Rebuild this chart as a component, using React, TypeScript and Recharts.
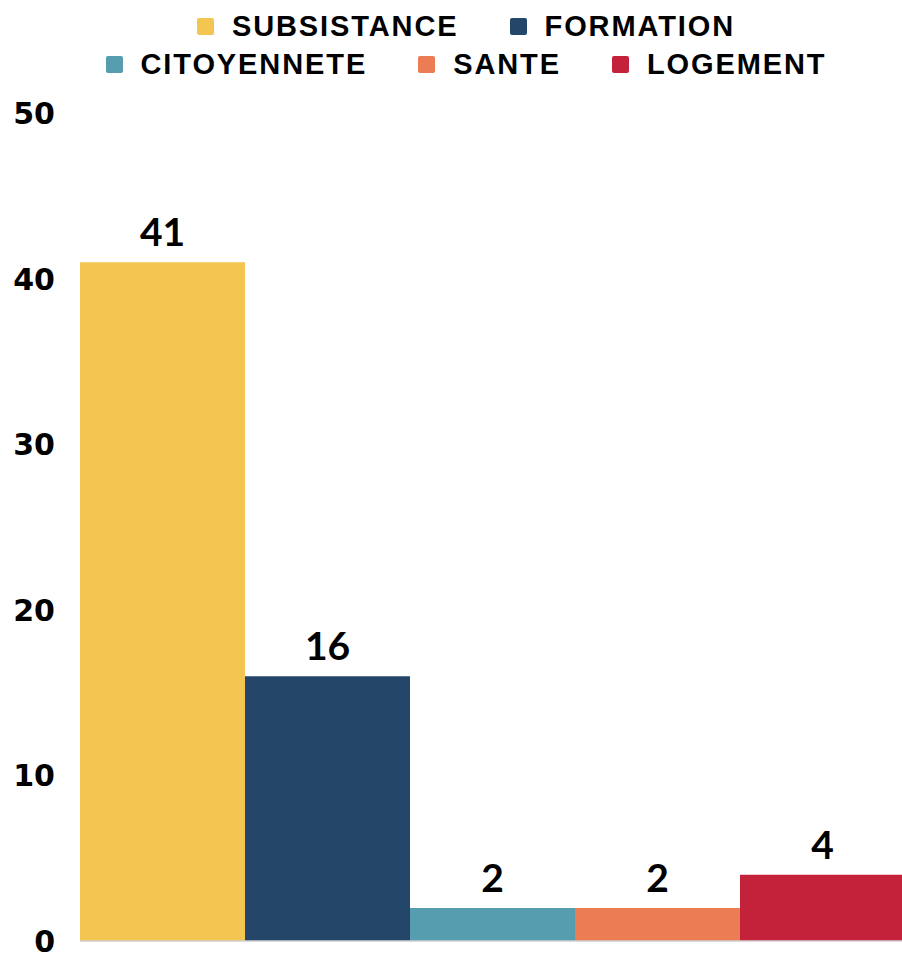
import React from 'react';
import { BarChart, Bar, XAxis, YAxis, Legend, LabelList } from 'recharts';

const categories = ['Total'];
const seriesNames = ['SUBSISTANCE', 'FORMATION', 'CITOYENNETE', 'SANTE', 'LOGEMENT'];
const seriesValues = [41, 16, 2, 2, 4];
const seriesColors = ['#F2C651', '#244668', '#559DAF', '#EC7C53', '#C4223B'];
const yTicks = [0, 10, 20, 30, 40, 50];
const legendRows = [[0, 1], [2, 3, 4]];

const data = categories.map((c) => {
  const row: Record<string, string | number> = { name: c };
  seriesNames.forEach((s, i) => {
    row[s] = seriesValues[i];
  });
  return row;
});

const LegendContent = (props: any) => {
  const payload: any[] = props.payload || [];
  const byName: Record<string, any> = {};
  payload.forEach((p) => {
    byName[p.value] = p;
  });
  return (
    <div style={{ paddingTop: 7, paddingLeft: 30, width: 902, height: 80, boxSizing: 'border-box' }}>
      {legendRows.map((row, ri) => (
        <div
          key={ri}
          style={{ display: 'flex', justifyContent: 'center', alignItems: 'center', height: 38 }}
        >
          {row.map((idx, k) => {
            const name = seriesNames[idx];
            const p = byName[name];
            return (
              <div
                key={name}
                style={{
                  display: 'flex',
                  alignItems: 'center',
                  marginLeft: k === 0 ? 0 : 51,
                }}
              >
                <span
                  style={{
                    display: 'inline-block',
                    width: 17,
                    height: 17,
                    borderRadius: 2,
                    background: p ? p.color : seriesColors[idx],
                    marginRight: 18,
                  }}
                />
                <span
                  style={{
                    fontFamily: '"Liberation Sans", Arial, sans-serif',
                    fontWeight: 700,
                    fontSize: 29,
                    letterSpacing: 1.9,
                    lineHeight: '38px',
                    color: '#000',
                  }}
                >
                  {name}
                </span>
              </div>
            );
          })}
        </div>
      ))}
    </div>
  );
};

export default function App() {
  return (
    <div
      style={{
        position: 'absolute',
        left: 0,
        top: 0,
        width: 902,
        height: 955,
        overflow: 'hidden',
        background: '#fff',
      }}
    >
      <BarChart
        width={905}
        height={955}
        data={data}
        margin={{ top: 33.4, right: 0, bottom: 13, left: 0 }}
        barCategoryGap={0}
        barGap={0}
      >
        <XAxis
          dataKey="name"
          tick={false}
          tickLine={false}
          axisLine={{ stroke: '#cfcfcf', strokeWidth: 1.5 }}
          height={1}
        />
        <YAxis
          domain={[0, 50]}
          ticks={yTicks}
          interval={0}
          width={80}
          axisLine={false}
          tickLine={false}
          tickMargin={19}
          tick={{
            fill: '#000',
            fontSize: 30,
            fontWeight: 700,
            fontFamily: '"DejaVu Sans", sans-serif',
          }}
        />
        <Legend
          verticalAlign="top"
          align="center"
          content={<LegendContent />}
          wrapperStyle={{ top: 0, left: 0, width: 902, height: 80 }}
        />
        {seriesNames.map((s, i) => (
          <Bar key={s} dataKey={s} fill={seriesColors[i]} isAnimationActive={false}>
            <LabelList
              dataKey={s}
              position="top"
              offset={16}
              style={{
                fill: '#000',
                fontSize: 39,
                fontWeight: 700,
                fontFamily: 'Lato, sans-serif',
              }}
            />
          </Bar>
        ))}
      </BarChart>
    </div>
  );
}
